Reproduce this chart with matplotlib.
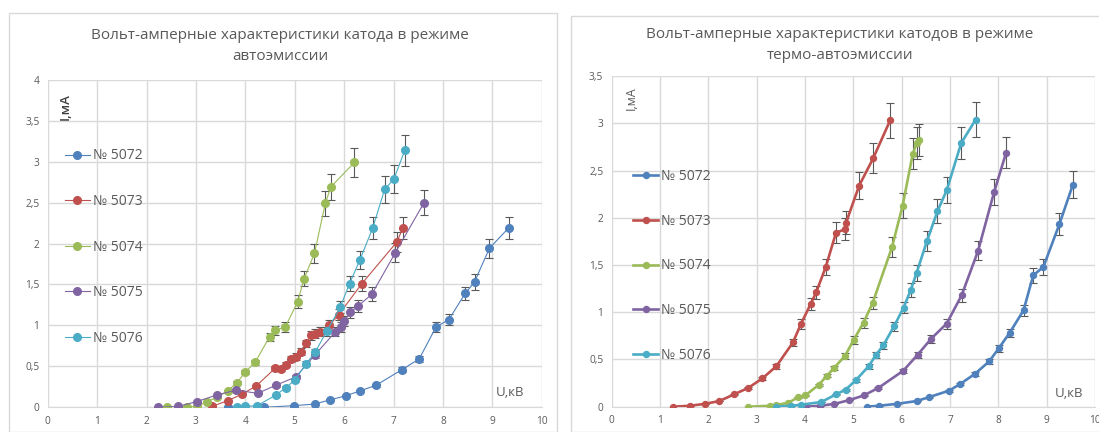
import matplotlib
matplotlib.use("Agg")
from matplotlib import pyplot as plt
from matplotlib.patches import Rectangle
from matplotlib.ticker import FuncFormatter, MultipleLocator

plt.rcParams['font.family'] = ['Open Sans', 'DejaVu Sans']

# --- data, left chart (автоэмиссия) ---
names = ['№ 5072', '№ 5073', '№ 5074', '№ 5075', '№ 5076']
colors = ['#4F81BD', '#C0504D', '#9BBB59', '#8064A2', '#4BACC6']

auto_u_5072 = [3.64, 4.37, 4.99, 5.41, 5.71, 6.03, 6.32, 6.65, 7.17, 7.52, 7.86, 8.12, 8.45, 8.64, 8.94, 9.33]
auto_i_5072 = [0, 0, 0.02, 0.04, 0.09, 0.14, 0.2, 0.27, 0.46, 0.59, 0.98, 1.07, 1.39, 1.53, 1.94, 2.19]
auto_u_5073 = [3.32, 3.64, 3.93, 4.22, 4.61, 4.72, 4.82, 4.92, 5.02, 5.13, 5.23, 5.32, 5.41, 5.52, 5.7, 5.89, 6.36, 7.07, 7.19]
auto_i_5073 = [0.01, 0.08, 0.16, 0.26, 0.48, 0.47, 0.52, 0.59, 0.62, 0.68, 0.78, 0.88, 0.9, 0.92, 1.0, 1.13, 1.51, 2.02, 2.19]
auto_u_5074 = [2.41, 2.81, 3.02, 3.22, 3.43, 3.64, 3.83, 4.0, 4.2, 4.49, 4.6, 4.81, 5.06, 5.19, 5.4, 5.62, 5.73, 6.21]
auto_i_5074 = [0, 0, 0.01, 0.07, 0.12, 0.2, 0.3, 0.43, 0.55, 0.86, 0.94, 0.98, 1.29, 1.57, 1.88, 2.49, 2.69, 2.99]
auto_u_5075 = [2.23, 2.63, 3.02, 3.42, 3.82, 4.25, 4.62, 5.02, 5.41, 5.82, 5.93, 6.0, 6.12, 6.29, 6.56, 7.04, 7.62]
auto_i_5075 = [0, 0.01, 0.07, 0.15, 0.21, 0.17, 0.27, 0.37, 0.64, 0.92, 0.98, 1.05, 1.16, 1.24, 1.38, 1.89, 2.5]
auto_u_5076 = [3.83, 3.99, 4.24, 4.62, 4.82, 5.0, 5.23, 5.41, 5.65, 5.92, 6.11, 6.32, 6.58, 6.82, 7.01, 7.23]
auto_i_5076 = [0, 0.01, 0.02, 0.15, 0.24, 0.33, 0.53, 0.67, 0.93, 1.22, 1.51, 1.8, 2.19, 2.66, 2.79, 3.14]

# --- data, right chart (термо-автоэмиссия) ---
thermo_u_5072 = [5.28, 5.53, 5.9, 6.31, 6.56, 6.98, 7.21, 7.52, 7.81, 8.01, 8.23, 8.52, 8.72, 8.93, 9.26, 9.54]
thermo_i_5072 = [0, 0.01, 0.03, 0.06, 0.1, 0.17, 0.24, 0.35, 0.48, 0.62, 0.78, 1.02, 1.39, 1.48, 1.93, 2.35]
thermo_u_5073 = [1.28, 1.62, 1.93, 2.23, 2.53, 2.83, 3.12, 3.41, 3.75, 3.92, 4.12, 4.23, 4.43, 4.64, 4.83, 4.85, 5.12, 5.41, 5.76]
thermo_i_5073 = [0, 0.01, 0.03, 0.06, 0.13, 0.2, 0.3, 0.43, 0.68, 0.88, 1.09, 1.21, 1.48, 1.84, 1.88, 1.95, 2.34, 2.63, 3.03]
thermo_u_5074 = [2.83, 3.28, 3.41, 3.65, 3.86, 4.01, 4.28, 4.46, 4.6, 4.83, 5.01, 5.21, 5.4, 5.8, 6.02, 6.23, 6.31, 6.36]
thermo_i_5074 = [0, 0.01, 0.02, 0.04, 0.1, 0.12, 0.23, 0.33, 0.41, 0.54, 0.71, 0.89, 1.1, 1.69, 2.13, 2.68, 2.79, 2.82]
thermo_u_5075 = [4.02, 4.31, 4.61, 4.92, 5.22, 5.52, 6.03, 6.33, 6.61, 6.93, 7.24, 7.58, 7.91, 8.16]
thermo_i_5075 = [0, 0.01, 0.03, 0.07, 0.12, 0.2, 0.38, 0.55, 0.72, 0.88, 1.18, 1.65, 2.27, 2.69]
thermo_u_5076 = [3.41, 3.71, 3.91, 4.34, 4.64, 4.84, 5.05, 5.32, 5.47, 5.62, 5.84, 6.04, 6.19, 6.31, 6.52, 6.74, 6.93, 7.23, 7.53]
thermo_i_5076 = [0, 0.01, 0.02, 0.05, 0.13, 0.18, 0.28, 0.43, 0.55, 0.65, 0.85, 1.05, 1.24, 1.42, 1.75, 2.07, 2.29, 2.79, 3.04]

# error bars in the original are percentage bars (about 6 %)
err_frac = 0.06

auto_u = [auto_u_5072, auto_u_5073, auto_u_5074, auto_u_5075, auto_u_5076]
auto_i = [auto_i_5072, auto_i_5073, auto_i_5074, auto_i_5075, auto_i_5076]
thermo_u = [thermo_u_5072, thermo_u_5073, thermo_u_5074, thermo_u_5075, thermo_u_5076]
thermo_i = [thermo_i_5072, thermo_i_5073, thermo_i_5074, thermo_i_5075, thermo_i_5076]

title_left = 'Вольт-амперные характеристики катода в режиме\nавтоэмиссии'
title_right = 'Вольт-амперные характеристики катодов в режиме\nтермо-автоэмиссии'

text_col = '#595959'
grid_col = '#D9D9D9'

W, H = 1099, 432
fig = plt.figure(figsize=(W / 100, H / 100), dpi=100)

def comma(v, pos):
    s = ('%g' % v).replace('.', ',')
    return s

def draw_chart(rect, us, ivals, ymax, lw, ms, legend_anchor, legend_spacing):
    ax = fig.add_axes(rect)
    for u, i, c, n in zip(us, ivals, colors, names):
        yerr = [v * err_frac for v in i]
        ax.errorbar(u, i, yerr=yerr, fmt='none', ecolor='#595959', elinewidth=0.8,
                    capsize=3, capthick=0.8, zorder=2)
        ax.plot(u, i, '-o', color=c, lw=lw, ms=ms, label=n, zorder=3)
    ax.set_xlim(0, 10)
    ax.set_ylim(0, ymax)
    ax.xaxis.set_major_locator(MultipleLocator(1))
    ax.yaxis.set_major_locator(MultipleLocator(0.5))
    ax.xaxis.set_major_formatter(FuncFormatter(comma))
    ax.yaxis.set_major_formatter(FuncFormatter(comma))
    ax.grid(True, color=grid_col, lw=1)
    ax.set_axisbelow(True)
    for s in ['top', 'right', 'left']:
        ax.spines[s].set_visible(False)
    ax.spines['bottom'].set_color(grid_col)
    ax.tick_params(length=0, labelsize=7.3, colors=text_col, pad=6)
    leg = ax.legend(loc='upper left', bbox_to_anchor=legend_anchor, frameon=False,
                    fontsize=10, labelspacing=legend_spacing, handlelength=1.8,
                    handletextpad=0.2, borderaxespad=0, borderpad=0)
    for t in leg.get_texts():
        t.set_color(text_col)
    return ax

# chart frames
fig.add_artist(Rectangle((9 / W, 0), (557 - 9) / W, 1 - 13 / H, transform=fig.transFigure,
                         fill=False, edgecolor=grid_col, lw=1))
fig.add_artist(Rectangle((571 / W, 0), 1 - 571 / W + 0.01, 1 - 16 / H, transform=fig.transFigure,
                         fill=False, edgecolor=grid_col, lw=1))

ax1 = draw_chart([47.7 / W, 1 - 407.3 / H, 494 / W, (407.3 - 79.7) / H],
                 auto_u, auto_i, 4, 0.8, 5.5, (0.035, 0.79), 2.2)
ax2 = draw_chart([611.6 / W, 1 - 406.7 / H, 483.5 / W, (406.7 - 76.1) / H],
                 thermo_u, thermo_i, 3.5, 1.9, 4.3, (0.045, 0.72), 2.15)

fig.text(280 / W, 1 - 46 / H, title_left, ha='center', va='center', fontsize=11,
         color=text_col, linespacing=1.5)
fig.text(840 / W, 1 - 45 / H, title_right, ha='center', va='center', fontsize=11,
         color=text_col, linespacing=1.5)

ax1.text(0.036, 0.96, 'I,мА', transform=ax1.transAxes, rotation=90, ha='center', va='top',
         fontsize=9.5, color='#404040', fontweight='semibold')
ax1.text(0.965, 0.045, 'U,кВ', transform=ax1.transAxes, ha='right', va='center',
         fontsize=9.5, color=text_col)
ax2.text(0.04, 0.97, 'I,мА', transform=ax2.transAxes, rotation=90, ha='center', va='top',
         fontsize=9, color=text_col)
ax2.text(0.975, 0.04, 'U,кВ', transform=ax2.transAxes, ha='right', va='center',
         fontsize=9.5, color=text_col)

fig.savefig('out.png', dpi=100)
